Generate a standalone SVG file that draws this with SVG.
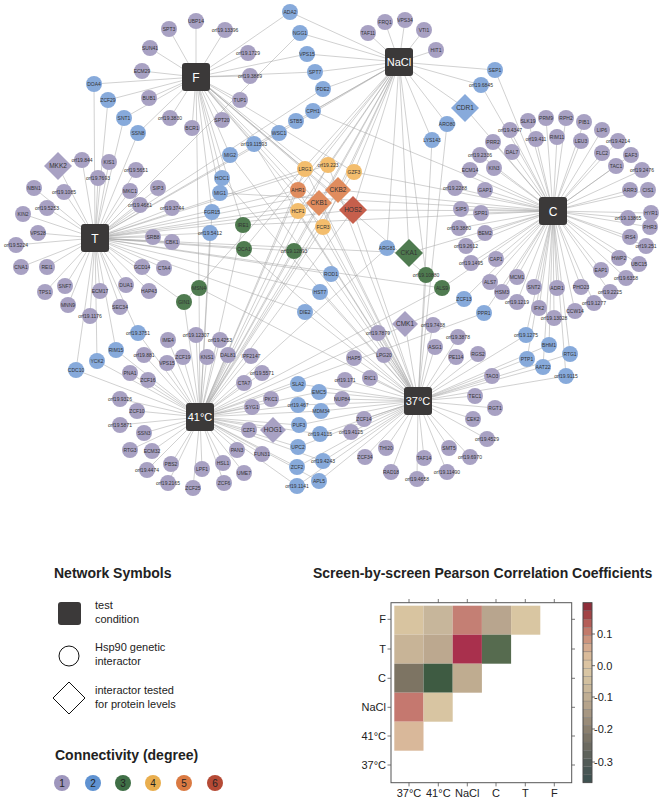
<svg xmlns="http://www.w3.org/2000/svg" width="663" height="800" viewBox="0 0 663 800">
<style>
.p{fill:#a8a1c3}.b{fill:#87aadb}.g{fill:#4f7b50}.y{fill:#f3bd6d}.o{fill:#e08c5e}.r{fill:#c65f4c}
.nodes text{font-family:'Liberation Sans',Arial,sans-serif;font-size:5px;text-anchor:middle;fill:#333}
.nodes text.d{font-size:6.5px}
.hub rect{fill:#3b3939}
.hub text{font-family:'Liberation Sans',Arial,sans-serif;font-size:11px;text-anchor:middle;fill:#fff}
.lg{font-family:'Liberation Sans',Arial,sans-serif;fill:#222}
.h{font-size:14px;font-weight:bold}
.s{font-size:11px}
</style>
<rect width="663" height="800" fill="#fff"/>
<g id="connectors" fill="none" stroke="#a3a3a3" stroke-width="0.5">
<path id="e-F" d="M196 77L169 29M196 77L196 21M196 77L225 30M196 77L150 48M196 77L142 71M196 77L149 98M196 77L170 118M196 77L192 128M196 77L248 53M196 77L250 76M196 77L240 100M196 77L222 120M196 77L94 84M196 77L108 100M196 77L124 118M196 77L138 133M196 77L290 12M196 77L307 54M196 77L315 72M196 77L254 144M196 77L230 155M196 77L222 178M196 77L220 193M196 77L212 212M196 77L243 225M196 77L199 288M196 77L426 275M196 77L305 169M196 77L354 172M196 77L323 227M196 77L298 190M196 77L338 190M196 77L319 203M196 77L353 210"/>
<path id="e-N" d="M399 62L368 33M399 62L385 22M399 62L405 20M399 62L424 30M399 62L436 50M399 62L290 12M399 62L300 33M399 62L307 54M399 62L315 72M399 62L323 89M399 62L313 111M399 62L296 121M399 62L279 133M399 62L495 70M399 62L481 85M399 62L465 108M399 62L447 124M399 62L432 140M399 62L387 248M399 62L244 249M399 62L294 251M399 62L184 302M399 62L409 253M399 62L426 275M399 62L328 165M399 62L354 172M399 62L298 211M399 62L323 227M399 62L298 190M399 62L338 190M399 62L319 203M399 62L353 210"/>
<path id="e-T" d="M95 238L58 166M95 238L82 160M95 238L109 162M95 238L136 170M95 238L98 178M95 238L34 188M95 238L64 192M95 238L130 191M95 238L158 188M95 238L47 208M95 238L140 205M95 238L172 208M95 238L23 214M95 238L38 233M95 238L16 245M95 238L153 237M95 238L172 242M95 238L21 267M95 238L47 267M95 238L142 267M95 238L164 268M95 238L65 286M95 238L45 292M95 238L100 291M95 238L126 285M95 238L149 291M95 238L68 305M95 238L120 307M95 238L90 316M95 238L94 84M95 238L108 100M95 238L124 118M95 238L138 133M95 238L300 33M95 238L323 89M95 238L296 121M95 238L279 133M95 238L210 233M95 238L116 350M95 238L97 361M95 238L76 370M95 238L138 333M95 238L331 274M95 238L320 292M95 238L305 312M95 238L244 249M95 238L294 251M95 238L184 302M95 238L409 253M95 238L442 288M95 238L305 169M95 238L328 165M95 238L298 211M95 238L298 190M95 238L338 190M95 238L319 203M95 238L353 210"/>
<path id="e-C" d="M553 211L528 121M553 211L546 118M553 211L566 118M553 211L584 122M553 211L602 130M553 211L510 130M553 211L536 139M553 211L557 137M553 211L581 141M553 211L618 141M553 211L493 142M553 211L512 152M553 211L602 153M553 211L631 155M553 211L480 155M553 211L616 166M553 211L642 170M553 211L470 170M553 211L494 168M553 211L455 188M553 211L485 190M553 211L461 209M553 211L481 213M553 211L459 228M553 211L485 233M553 211L466 246M553 211L471 263M553 211L496 259M553 211L490 282M553 211L517 277M553 211L502 292M553 211L534 287M553 211L557 288M553 211L581 287M553 211L601 270M553 211L626 278M553 211L610 292M553 211L517 302M553 211L594 303M553 211L539 308M553 211L575 311M553 211L554 318M553 211L630 190M553 211L648 190M553 211L651 213M553 211L628 218M553 211L650 227M553 211L630 237M553 211L646 246M553 211L619 258M553 211L639 264M553 211L313 111M553 211L220 193M553 211L495 70M553 211L481 85M553 211L465 108M553 211L243 225M553 211L409 253M553 211L442 288M553 211L464 299M553 211L484 313M553 211L526 335M553 211L549 345M553 211L527 359M553 211L543 367M553 211L570 354M553 211L566 376M553 211L354 172M553 211L338 190M553 211L353 210"/>
<path id="e-41" d="M200 417L144 355M200 417L168 340M200 417L183 357M200 417L207 357M200 417L167 363M200 417L196 335M200 417L220 340M200 417L130 373M200 417L148 380M200 417L120 399M200 417L137 411M200 417L120 425M200 417L144 433M200 417L130 450M200 417L152 451M200 417L171 464M200 417L147 470M200 417L202 469M200 417L168 483M200 417L193 488M200 417L223 463M200 417L224 483M200 417L244 473M200 417L237 450M200 417L262 454M200 417L249 430M200 417L273 430M200 417L252 407M200 417L271 399M200 417L244 383M200 417L262 373M200 417L251 356M200 417L228 355M200 417L212 212M200 417L210 233M200 417L116 350M200 417L97 361M200 417L76 370M200 417L138 333M200 417L387 248M200 417L464 299M200 417L484 313M200 417L298 384M200 417L319 392M200 417L298 405M200 417L321 411M200 417L299 425M200 417L320 434M200 417L298 447M200 417L297 467M200 417L323 461M200 417L319 481M200 417L297 486M200 417L243 225M200 417L294 251M200 417L199 288M200 417L184 302M200 417L442 288M200 417L305 169M200 417L328 165M200 417L354 172M200 417L298 211M200 417L323 227M200 417L298 190M200 417L338 190M200 417L319 203M200 417L353 210"/>
<path id="e-37" d="M418 401L354 358M418 401L384 355M418 401L345 380M418 401L370 378M418 401L342 399M418 401L364 419M418 401L351 432M418 401L365 457M418 401L386 448M418 401L391 472M418 401L424 458M418 401L417 479M418 401L447 472M418 401L470 457M418 401L449 448M418 401L487 439M418 401L473 419M418 401L495 408M418 401L475 396M418 401L492 376M418 401L478 354M418 401L456 357M418 401L435 347M418 401L378 333M418 401L405 324M418 401L433 325M418 401L458 337M418 401L254 144M418 401L230 155M418 401L222 178M418 401L447 124M418 401L432 140M418 401L331 274M418 401L320 292M418 401L305 312M418 401L526 335M418 401L549 345M418 401L527 359M418 401L543 367M418 401L570 354M418 401L566 376M418 401L298 384M418 401L319 392M418 401L298 405M418 401L321 411M418 401L299 425M418 401L320 434M418 401L298 447M418 401L297 467M418 401L323 461M418 401L319 481M418 401L297 486M418 401L244 249M418 401L199 288M418 401L426 275M418 401L305 169M418 401L328 165M418 401L298 211M418 401L323 227M418 401L298 190M418 401L319 203M418 401L353 210"/>
</g>
<g class="nodes">
<g id="n-SPT3"><circle class="p" cx="169" cy="29" r="8"/><text x="169" y="30.8">SPT3</text></g>
<g id="n-UBP14"><circle class="p" cx="196" cy="21" r="8"/><text x="196" y="22.8">UBP14</text></g>
<g id="n-orf19.13396"><circle class="p" cx="225" cy="30" r="8"/><text x="225" y="31.8">orf19.13396</text></g>
<g id="n-SUN41"><circle class="p" cx="150" cy="48" r="8"/><text x="150" y="49.8">SUN41</text></g>
<g id="n-ECM29"><circle class="p" cx="142" cy="71" r="8"/><text x="142" y="72.8">ECM29</text></g>
<g id="n-BUB1"><circle class="p" cx="149" cy="98" r="8"/><text x="149" y="99.8">BUB1</text></g>
<g id="n-orf19.3830"><circle class="p" cx="170" cy="118" r="8"/><text x="170" y="119.8">orf19.3830</text></g>
<g id="n-BCR1"><circle class="p" cx="192" cy="128" r="8"/><text x="192" y="129.8">BCR1</text></g>
<g id="n-orf19.1729"><circle class="p" cx="248" cy="53" r="8"/><text x="248" y="54.8">orf19.1729</text></g>
<g id="n-orf19.3889"><circle class="p" cx="250" cy="76" r="8"/><text x="250" y="77.8">orf19.3889</text></g>
<g id="n-TUP1"><circle class="p" cx="240" cy="100" r="8"/><text x="240" y="101.8">TUP1</text></g>
<g id="n-SPT20"><circle class="p" cx="222" cy="120" r="8"/><text x="222" y="121.8">SPT20</text></g>
<g id="n-TAF11"><circle class="p" cx="368" cy="33" r="8"/><text x="368" y="34.8">TAF11</text></g>
<g id="n-FRQ1"><circle class="p" cx="385" cy="22" r="8"/><text x="385" y="23.8">FRQ1</text></g>
<g id="n-VPS34"><circle class="p" cx="405" cy="20" r="8"/><text x="405" y="21.8">VPS34</text></g>
<g id="n-VTI1"><circle class="p" cx="424" cy="30" r="8"/><text x="424" y="31.8">VTI1</text></g>
<g id="n-HIT1"><circle class="p" cx="436" cy="50" r="8"/><text x="436" y="51.8">HIT1</text></g>
<g id="n-orf19.844"><circle class="p" cx="82" cy="160" r="8"/><text x="82" y="161.8">orf19.844</text></g>
<g id="n-KIS1"><circle class="p" cx="109" cy="162" r="8"/><text x="109" y="163.8">KIS1</text></g>
<g id="n-orf19.5651"><circle class="p" cx="136" cy="170" r="8"/><text x="136" y="171.8">orf19.5651</text></g>
<g id="n-orf19.7693"><circle class="p" cx="98" cy="178" r="8"/><text x="98" y="179.8">orf19.7693</text></g>
<g id="n-NBN1"><circle class="p" cx="34" cy="188" r="8"/><text x="34" y="189.8">NBN1</text></g>
<g id="n-orf19.1085"><circle class="p" cx="64" cy="192" r="8"/><text x="64" y="193.8">orf19.1085</text></g>
<g id="n-MKC1"><circle class="p" cx="130" cy="191" r="8"/><text x="130" y="192.8">MKC1</text></g>
<g id="n-SIP3"><circle class="p" cx="158" cy="188" r="8"/><text x="158" y="189.8">SIP3</text></g>
<g id="n-orf19.5253"><circle class="p" cx="47" cy="208" r="8"/><text x="47" y="209.8">orf19.5253</text></g>
<g id="n-orf19.4681"><circle class="p" cx="140" cy="205" r="8"/><text x="140" y="206.8">orf19.4681</text></g>
<g id="n-orf19.3744"><circle class="p" cx="172" cy="208" r="8"/><text x="172" y="209.8">orf19.3744</text></g>
<g id="n-KIN2"><circle class="p" cx="23" cy="214" r="8"/><text x="23" y="215.8">KIN2</text></g>
<g id="n-VPS28"><circle class="p" cx="38" cy="233" r="8"/><text x="38" y="234.8">VPS28</text></g>
<g id="n-orf19.5224"><circle class="p" cx="16" cy="245" r="8"/><text x="16" y="246.8">orf19.5224</text></g>
<g id="n-SRB8"><circle class="p" cx="153" cy="237" r="8"/><text x="153" y="238.8">SRB8</text></g>
<g id="n-CBK1"><circle class="p" cx="172" cy="242" r="8"/><text x="172" y="243.8">CBK1</text></g>
<g id="n-CNA1"><circle class="p" cx="21" cy="267" r="8"/><text x="21" y="268.8">CNA1</text></g>
<g id="n-REI1"><circle class="p" cx="47" cy="267" r="8"/><text x="47" y="268.8">REI1</text></g>
<g id="n-GCD14"><circle class="p" cx="142" cy="267" r="8"/><text x="142" y="268.8">GCD14</text></g>
<g id="n-CTA4"><circle class="p" cx="164" cy="268" r="8"/><text x="164" y="269.8">CTA4</text></g>
<g id="n-SNF7"><circle class="p" cx="65" cy="286" r="8"/><text x="65" y="287.8">SNF7</text></g>
<g id="n-TPS1"><circle class="p" cx="45" cy="292" r="8"/><text x="45" y="293.8">TPS1</text></g>
<g id="n-ECM17"><circle class="p" cx="100" cy="291" r="8"/><text x="100" y="292.8">ECM17</text></g>
<g id="n-DUA1"><circle class="p" cx="126" cy="285" r="8"/><text x="126" y="286.8">DUA1</text></g>
<g id="n-HAP43"><circle class="p" cx="149" cy="291" r="8"/><text x="149" y="292.8">HAP43</text></g>
<g id="n-MNN9"><circle class="p" cx="68" cy="305" r="8"/><text x="68" y="306.8">MNN9</text></g>
<g id="n-SEC34"><circle class="p" cx="120" cy="307" r="8"/><text x="120" y="308.8">SEC34</text></g>
<g id="n-orf19.1176"><circle class="p" cx="90" cy="316" r="8"/><text x="90" y="317.8">orf19.1176</text></g>
<g id="n-orf19.881"><circle class="p" cx="144" cy="355" r="8"/><text x="144" y="356.8">orf19.881</text></g>
<g id="n-IME4"><circle class="p" cx="168" cy="340" r="8"/><text x="168" y="341.8">IME4</text></g>
<g id="n-ZCF19"><circle class="p" cx="183" cy="357" r="8"/><text x="183" y="358.8">ZCF19</text></g>
<g id="n-KNS1"><circle class="p" cx="207" cy="357" r="8"/><text x="207" y="358.8">KNS1</text></g>
<g id="n-VPS15b"><circle class="p" cx="167" cy="363" r="8"/><text x="167" y="364.8">VPS15</text></g>
<g id="n-orf19.12307"><circle class="p" cx="196" cy="335" r="8"/><text x="196" y="336.8">orf19.12307</text></g>
<g id="n-orf19.4253"><circle class="p" cx="220" cy="340" r="8"/><text x="220" y="341.8">orf19.4253</text></g>
<g id="n-PNA1"><circle class="p" cx="130" cy="373" r="8"/><text x="130" y="374.8">PNA1</text></g>
<g id="n-ZCF16"><circle class="p" cx="148" cy="380" r="8"/><text x="148" y="381.8">ZCF16</text></g>
<g id="n-orf19.9326"><circle class="p" cx="120" cy="399" r="8"/><text x="120" y="400.8">orf19.9326</text></g>
<g id="n-ZCF10"><circle class="p" cx="137" cy="411" r="8"/><text x="137" y="412.8">ZCF10</text></g>
<g id="n-orf19.5871"><circle class="p" cx="120" cy="425" r="8"/><text x="120" y="426.8">orf19.5871</text></g>
<g id="n-SSN3"><circle class="p" cx="144" cy="433" r="8"/><text x="144" y="434.8">SSN3</text></g>
<g id="n-RTG3"><circle class="p" cx="130" cy="450" r="8"/><text x="130" y="451.8">RTG3</text></g>
<g id="n-ECM32"><circle class="p" cx="152" cy="451" r="8"/><text x="152" y="452.8">ECM32</text></g>
<g id="n-PBS2"><circle class="p" cx="171" cy="464" r="8"/><text x="171" y="465.8">PBS2</text></g>
<g id="n-orf19.4474"><circle class="p" cx="147" cy="470" r="8"/><text x="147" y="471.8">orf19.4474</text></g>
<g id="n-LPF1"><circle class="p" cx="202" cy="469" r="8"/><text x="202" y="470.8">LPF1</text></g>
<g id="n-orf19.2165"><circle class="p" cx="168" cy="483" r="8"/><text x="168" y="484.8">orf19.2165</text></g>
<g id="n-ZCF25"><circle class="p" cx="193" cy="488" r="8"/><text x="193" y="489.8">ZCF25</text></g>
<g id="n-HSL1"><circle class="p" cx="223" cy="463" r="8"/><text x="223" y="464.8">HSL1</text></g>
<g id="n-ZCF6"><circle class="p" cx="224" cy="483" r="8"/><text x="224" y="484.8">ZCF6</text></g>
<g id="n-UME7"><circle class="p" cx="244" cy="473" r="8"/><text x="244" y="474.8">UME7</text></g>
<g id="n-PAN3"><circle class="p" cx="237" cy="450" r="8"/><text x="237" y="451.8">PAN3</text></g>
<g id="n-FUN31"><circle class="p" cx="262" cy="454" r="8"/><text x="262" y="455.8">FUN31</text></g>
<g id="n-CZF1"><circle class="p" cx="249" cy="430" r="8"/><text x="249" y="431.8">CZF1</text></g>
<g id="n-SYG1"><circle class="p" cx="252" cy="407" r="8"/><text x="252" y="408.8">SYG1</text></g>
<g id="n-PKC1"><circle class="p" cx="271" cy="399" r="8"/><text x="271" y="400.8">PKC1</text></g>
<g id="n-CTA7"><circle class="p" cx="244" cy="383" r="8"/><text x="244" y="384.8">CTA7</text></g>
<g id="n-orf19.5571"><circle class="p" cx="262" cy="373" r="8"/><text x="262" y="374.8">orf19.5571</text></g>
<g id="n-IPF2147"><circle class="p" cx="251" cy="356" r="8"/><text x="251" y="357.8">IPF2147</text></g>
<g id="n-DAL81"><circle class="p" cx="228" cy="355" r="8"/><text x="228" y="356.8">DAL81</text></g>
<g id="n-HAP5"><circle class="p" cx="354" cy="358" r="8"/><text x="354" y="359.8">HAP5</text></g>
<g id="n-LPG20"><circle class="p" cx="384" cy="355" r="8"/><text x="384" y="356.8">LPG20</text></g>
<g id="n-orf19.171"><circle class="p" cx="345" cy="380" r="8"/><text x="345" y="381.8">orf19.171</text></g>
<g id="n-RIC1"><circle class="p" cx="370" cy="378" r="8"/><text x="370" y="379.8">RIC1</text></g>
<g id="n-NUP84"><circle class="p" cx="342" cy="399" r="8"/><text x="342" y="400.8">NUP84</text></g>
<g id="n-ZCF14"><circle class="p" cx="364" cy="419" r="8"/><text x="364" y="420.8">ZCF14</text></g>
<g id="n-orf19.4125"><circle class="p" cx="351" cy="432" r="8"/><text x="351" y="433.8">orf19.4125</text></g>
<g id="n-ZCF34"><circle class="p" cx="365" cy="457" r="8"/><text x="365" y="458.8">ZCF34</text></g>
<g id="n-THI20"><circle class="p" cx="386" cy="448" r="8"/><text x="386" y="449.8">THI20</text></g>
<g id="n-RAD18"><circle class="p" cx="391" cy="472" r="8"/><text x="391" y="473.8">RAD18</text></g>
<g id="n-TAF14"><circle class="p" cx="424" cy="458" r="8"/><text x="424" y="459.8">TAF14</text></g>
<g id="n-orf19.4658"><circle class="p" cx="417" cy="479" r="8"/><text x="417" y="480.8">orf19.4658</text></g>
<g id="n-orf19.11490"><circle class="p" cx="447" cy="472" r="8"/><text x="447" y="473.8">orf19.11490</text></g>
<g id="n-orf19.6970"><circle class="p" cx="470" cy="457" r="8"/><text x="470" y="458.8">orf19.6970</text></g>
<g id="n-SMT5"><circle class="p" cx="449" cy="448" r="8"/><text x="449" y="449.8">SMT5</text></g>
<g id="n-orf19.4529"><circle class="p" cx="487" cy="439" r="8"/><text x="487" y="440.8">orf19.4529</text></g>
<g id="n-CEK2"><circle class="p" cx="473" cy="419" r="8"/><text x="473" y="420.8">CEK2</text></g>
<g id="n-RGT1"><circle class="p" cx="495" cy="408" r="8"/><text x="495" y="409.8">RGT1</text></g>
<g id="n-TEC1"><circle class="p" cx="475" cy="396" r="8"/><text x="475" y="397.8">TEC1</text></g>
<g id="n-TAO3"><circle class="p" cx="492" cy="376" r="8"/><text x="492" y="377.8">TAO3</text></g>
<g id="n-RGS2"><circle class="p" cx="478" cy="354" r="8"/><text x="478" y="355.8">RGS2</text></g>
<g id="n-PE114"><circle class="p" cx="456" cy="357" r="8"/><text x="456" y="358.8">PE114</text></g>
<g id="n-ASG1"><circle class="p" cx="435" cy="347" r="8"/><text x="435" y="348.8">ASG1</text></g>
<g id="n-orf19.7879"><circle class="p" cx="378" cy="333" r="8"/><text x="378" y="334.8">orf19.7879</text></g>
<g id="n-orf19.7438"><circle class="p" cx="433" cy="325" r="8"/><text x="433" y="326.8">orf19.7438</text></g>
<g id="n-orf19.3878"><circle class="p" cx="458" cy="337" r="8"/><text x="458" y="338.8">orf19.3878</text></g>
<g id="n-SLK19"><circle class="p" cx="528" cy="121" r="8"/><text x="528" y="122.8">SLK19</text></g>
<g id="n-PRM9"><circle class="p" cx="546" cy="118" r="8"/><text x="546" y="119.8">PRM9</text></g>
<g id="n-RPH2"><circle class="p" cx="566" cy="118" r="8"/><text x="566" y="119.8">RPH2</text></g>
<g id="n-PIB1"><circle class="p" cx="584" cy="122" r="8"/><text x="584" y="123.8">PIB1</text></g>
<g id="n-LIP6"><circle class="p" cx="602" cy="130" r="8"/><text x="602" y="131.8">LIP6</text></g>
<g id="n-orf19.4347"><circle class="p" cx="510" cy="130" r="8"/><text x="510" y="131.8">orf19.4347</text></g>
<g id="n-orf19.411"><circle class="p" cx="536" cy="139" r="8"/><text x="536" y="140.8">orf19.411</text></g>
<g id="n-RIM11"><circle class="p" cx="557" cy="137" r="8"/><text x="557" y="138.8">RIM11</text></g>
<g id="n-LEU3"><circle class="p" cx="581" cy="141" r="8"/><text x="581" y="142.8">LEU3</text></g>
<g id="n-orf19.4214"><circle class="p" cx="618" cy="141" r="8"/><text x="618" y="142.8">orf19.4214</text></g>
<g id="n-PRR2"><circle class="p" cx="493" cy="142" r="8"/><text x="493" y="143.8">PRR2</text></g>
<g id="n-DAL7"><circle class="p" cx="512" cy="152" r="8"/><text x="512" y="153.8">DAL7</text></g>
<g id="n-FLC2"><circle class="p" cx="602" cy="153" r="8"/><text x="602" y="154.8">FLC2</text></g>
<g id="n-EAF3"><circle class="p" cx="631" cy="155" r="8"/><text x="631" y="156.8">EAF3</text></g>
<g id="n-orf19.2336"><circle class="p" cx="480" cy="155" r="8"/><text x="480" y="156.8">orf19.2336</text></g>
<g id="n-TAC1"><circle class="p" cx="616" cy="166" r="8"/><text x="616" y="167.8">TAC1</text></g>
<g id="n-orf19.2476"><circle class="p" cx="642" cy="170" r="8"/><text x="642" y="171.8">orf19.2476</text></g>
<g id="n-ECM14"><circle class="p" cx="470" cy="170" r="8"/><text x="470" y="171.8">ECM14</text></g>
<g id="n-KIN3"><circle class="p" cx="494" cy="168" r="8"/><text x="494" y="169.8">KIN3</text></g>
<g id="n-orf19.2288"><circle class="p" cx="455" cy="188" r="8"/><text x="455" y="189.8">orf19.2288</text></g>
<g id="n-GAP1"><circle class="p" cx="485" cy="190" r="8"/><text x="485" y="191.8">GAP1</text></g>
<g id="n-SIP5"><circle class="p" cx="461" cy="209" r="8"/><text x="461" y="210.8">SIP5</text></g>
<g id="n-SPR1"><circle class="p" cx="481" cy="213" r="8"/><text x="481" y="214.8">SPR1</text></g>
<g id="n-orf19.3880"><circle class="p" cx="459" cy="228" r="8"/><text x="459" y="229.8">orf19.3880</text></g>
<g id="n-BEM2"><circle class="p" cx="485" cy="233" r="8"/><text x="485" y="234.8">BEM2</text></g>
<g id="n-orf19.2612"><circle class="p" cx="466" cy="246" r="8"/><text x="466" y="247.8">orf19.2612</text></g>
<g id="n-orf19.1495"><circle class="p" cx="471" cy="263" r="8"/><text x="471" y="264.8">orf19.1495</text></g>
<g id="n-CAP1"><circle class="p" cx="496" cy="259" r="8"/><text x="496" y="260.8">CAP1</text></g>
<g id="n-ALS7"><circle class="p" cx="490" cy="282" r="8"/><text x="490" y="283.8">ALS7</text></g>
<g id="n-MCM1"><circle class="p" cx="517" cy="277" r="8"/><text x="517" y="278.8">MCM1</text></g>
<g id="n-HSM3"><circle class="p" cx="502" cy="292" r="8"/><text x="502" y="293.8">HSM3</text></g>
<g id="n-SNT2"><circle class="p" cx="534" cy="287" r="8"/><text x="534" y="288.8">SNT2</text></g>
<g id="n-ADR1"><circle class="p" cx="557" cy="288" r="8"/><text x="557" y="289.8">ADR1</text></g>
<g id="n-PHO23"><circle class="p" cx="581" cy="287" r="8"/><text x="581" y="288.8">PHO23</text></g>
<g id="n-EAP1"><circle class="p" cx="601" cy="270" r="8"/><text x="601" y="271.8">EAP1</text></g>
<g id="n-orf19.6358"><circle class="p" cx="626" cy="278" r="8"/><text x="626" y="279.8">orf19.6358</text></g>
<g id="n-orf19.2225"><circle class="p" cx="610" cy="292" r="8"/><text x="610" y="293.8">orf19.2225</text></g>
<g id="n-orf19.1219"><circle class="p" cx="517" cy="302" r="8"/><text x="517" y="303.8">orf19.1219</text></g>
<g id="n-orf19.1277"><circle class="p" cx="594" cy="303" r="8"/><text x="594" y="304.8">orf19.1277</text></g>
<g id="n-IFK2"><circle class="p" cx="539" cy="308" r="8"/><text x="539" y="309.8">IFK2</text></g>
<g id="n-CCW14"><circle class="p" cx="575" cy="311" r="8"/><text x="575" y="312.8">CCW14</text></g>
<g id="n-orf19.13028"><circle class="p" cx="554" cy="318" r="8"/><text x="554" y="319.8">orf19.13028</text></g>
<g id="n-ARR3"><circle class="p" cx="630" cy="190" r="8"/><text x="630" y="191.8">ARR3</text></g>
<g id="n-CIS1"><circle class="p" cx="648" cy="190" r="8"/><text x="648" y="191.8">CIS1</text></g>
<g id="n-HYR1"><circle class="p" cx="651" cy="213" r="8"/><text x="651" y="214.8">HYR1</text></g>
<g id="n-orf19.13865"><circle class="p" cx="628" cy="218" r="8"/><text x="628" y="219.8">orf19.13865</text></g>
<g id="n-PHR3"><circle class="p" cx="650" cy="227" r="8"/><text x="650" y="228.8">PHR3</text></g>
<g id="n-IRS4"><circle class="p" cx="630" cy="237" r="8"/><text x="630" y="238.8">IRS4</text></g>
<g id="n-orf19.251"><circle class="p" cx="646" cy="246" r="8"/><text x="646" y="247.8">orf19.251</text></g>
<g id="n-HWP2"><circle class="p" cx="619" cy="258" r="8"/><text x="619" y="259.8">HWP2</text></g>
<g id="n-UBC15"><circle class="p" cx="639" cy="264" r="8"/><text x="639" y="265.8">UBC15</text></g>
<g id="n-DOA4"><circle class="b" cx="94" cy="84" r="8"/><text x="94" y="85.8">DOA4</text></g>
<g id="n-ZCF29"><circle class="b" cx="108" cy="100" r="8"/><text x="108" y="101.8">ZCF29</text></g>
<g id="n-SNT1"><circle class="b" cx="124" cy="118" r="8"/><text x="124" y="119.8">SNT1</text></g>
<g id="n-SSN8"><circle class="b" cx="138" cy="133" r="8"/><text x="138" y="134.8">SSN8</text></g>
<g id="n-ADA2"><circle class="b" cx="290" cy="12" r="8"/><text x="290" y="13.8">ADA2</text></g>
<g id="n-NGG1"><circle class="b" cx="300" cy="33" r="8"/><text x="300" y="34.8">NGG1</text></g>
<g id="n-VPS15"><circle class="b" cx="307" cy="54" r="8"/><text x="307" y="55.8">VPS15</text></g>
<g id="n-SPT7"><circle class="b" cx="315" cy="72" r="8"/><text x="315" y="73.8">SPT7</text></g>
<g id="n-PDE2"><circle class="b" cx="323" cy="89" r="8"/><text x="323" y="90.8">PDE2</text></g>
<g id="n-CPH1"><circle class="b" cx="313" cy="111" r="8"/><text x="313" y="112.8">CPH1</text></g>
<g id="n-STB5"><circle class="b" cx="296" cy="121" r="8"/><text x="296" y="122.8">STB5</text></g>
<g id="n-WSC1"><circle class="b" cx="279" cy="133" r="8"/><text x="279" y="134.8">WSC1</text></g>
<g id="n-orf19.11593"><circle class="b" cx="254" cy="144" r="8"/><text x="254" y="145.8">orf19.11593</text></g>
<g id="n-MIG2"><circle class="b" cx="230" cy="155" r="8"/><text x="230" y="156.8">MIG2</text></g>
<g id="n-HOC1"><circle class="b" cx="222" cy="178" r="8"/><text x="222" y="179.8">HOC1</text></g>
<g id="n-MIG1"><circle class="b" cx="220" cy="193" r="8"/><text x="220" y="194.8">MIG1</text></g>
<g id="n-FGR15"><circle class="b" cx="212" cy="212" r="8"/><text x="212" y="213.8">FGR15</text></g>
<g id="n-orf19.5412"><circle class="b" cx="210" cy="233" r="8"/><text x="210" y="234.8">orf19.5412</text></g>
<g id="n-RIM15"><circle class="b" cx="116" cy="350" r="8"/><text x="116" y="351.8">RIM15</text></g>
<g id="n-YCK2"><circle class="b" cx="97" cy="361" r="8"/><text x="97" y="362.8">YCK2</text></g>
<g id="n-CDC10"><circle class="b" cx="76" cy="370" r="8"/><text x="76" y="371.8">CDC10</text></g>
<g id="n-orf19.3751"><circle class="b" cx="138" cy="333" r="8"/><text x="138" y="334.8">orf19.3751</text></g>
<g id="n-SEP1"><circle class="b" cx="495" cy="70" r="8"/><text x="495" y="71.8">SEP1</text></g>
<g id="n-orf19.6845"><circle class="b" cx="481" cy="85" r="8"/><text x="481" y="86.8">orf19.6845</text></g>
<g id="n-ARO80"><circle class="b" cx="447" cy="124" r="8"/><text x="447" y="125.8">ARO80</text></g>
<g id="n-LYS143"><circle class="b" cx="432" cy="140" r="8"/><text x="432" y="141.8">LYS143</text></g>
<g id="n-ROD1"><circle class="b" cx="331" cy="274" r="8"/><text x="331" y="275.8">ROD1</text></g>
<g id="n-HST7"><circle class="b" cx="320" cy="292" r="8"/><text x="320" y="293.8">HST7</text></g>
<g id="n-DIE2"><circle class="b" cx="305" cy="312" r="8"/><text x="305" y="313.8">DIE2</text></g>
<g id="n-ARG81"><circle class="b" cx="387" cy="248" r="8"/><text x="387" y="249.8">ARG81</text></g>
<g id="n-ZCF13"><circle class="b" cx="464" cy="299" r="8"/><text x="464" y="300.8">ZCF13</text></g>
<g id="n-PPR1"><circle class="b" cx="484" cy="313" r="8"/><text x="484" y="314.8">PPR1</text></g>
<g id="n-orf19.1275"><circle class="b" cx="526" cy="335" r="8"/><text x="526" y="336.8">orf19.1275</text></g>
<g id="n-BHM1"><circle class="b" cx="549" cy="345" r="8"/><text x="549" y="346.8">BHM1</text></g>
<g id="n-PTP1"><circle class="b" cx="527" cy="359" r="8"/><text x="527" y="360.8">PTP1</text></g>
<g id="n-AAT22"><circle class="b" cx="543" cy="367" r="8"/><text x="543" y="368.8">AAT22</text></g>
<g id="n-RTG1"><circle class="b" cx="570" cy="354" r="8"/><text x="570" y="355.8">RTG1</text></g>
<g id="n-orf19.9115"><circle class="b" cx="566" cy="376" r="8"/><text x="566" y="377.8">orf19.9115</text></g>
<g id="n-SLA2"><circle class="b" cx="298" cy="384" r="8"/><text x="298" y="385.8">SLA2</text></g>
<g id="n-EMC5"><circle class="b" cx="319" cy="392" r="8"/><text x="319" y="393.8">EMC5</text></g>
<g id="n-orf19.467"><circle class="b" cx="298" cy="405" r="8"/><text x="298" y="406.8">orf19.467</text></g>
<g id="n-MDM34"><circle class="b" cx="321" cy="411" r="8"/><text x="321" y="412.8">MDM34</text></g>
<g id="n-PUF3"><circle class="b" cx="299" cy="425" r="8"/><text x="299" y="426.8">PUF3</text></g>
<g id="n-orf19.4135"><circle class="b" cx="320" cy="434" r="8"/><text x="320" y="435.8">orf19.4135</text></g>
<g id="n-UPC2"><circle class="b" cx="298" cy="447" r="8"/><text x="298" y="448.8">UPC2</text></g>
<g id="n-ZCF2"><circle class="b" cx="297" cy="467" r="8"/><text x="297" y="468.8">ZCF2</text></g>
<g id="n-orf19.4243"><circle class="b" cx="323" cy="461" r="8"/><text x="323" y="462.8">orf19.4243</text></g>
<g id="n-APL5"><circle class="b" cx="319" cy="481" r="8"/><text x="319" y="482.8">APL5</text></g>
<g id="n-orf19.1141"><circle class="b" cx="297" cy="486" r="8"/><text x="297" y="487.8">orf19.1141</text></g>
<g id="n-IRE1"><circle class="g" cx="243" cy="225" r="8"/><text x="243" y="226.8">IRE1</text></g>
<g id="n-OCA1"><circle class="g" cx="244" cy="249" r="8"/><text x="244" y="250.8">OCA1</text></g>
<g id="n-orf19.12893"><circle class="g" cx="294" cy="251" r="8"/><text x="294" y="252.8">orf19.12893</text></g>
<g id="n-MSN4"><circle class="g" cx="199" cy="288" r="8"/><text x="199" y="289.8">MSN4</text></g>
<g id="n-GIN1"><circle class="g" cx="184" cy="302" r="8"/><text x="184" y="303.8">GIN1</text></g>
<g id="n-orf19.10880"><circle class="g" cx="426" cy="275" r="8"/><text x="426" y="276.8">orf19.10880</text></g>
<g id="n-ALS9"><circle class="g" cx="442" cy="288" r="8"/><text x="442" y="289.8">ALS9</text></g>
<g id="n-LRG1"><circle class="y" cx="305" cy="169" r="8"/><text x="305" y="170.8">LRG1</text></g>
<g id="n-orf19.223"><circle class="y" cx="328" cy="165" r="8"/><text x="328" y="166.8">orf19.223</text></g>
<g id="n-GZF3"><circle class="y" cx="354" cy="172" r="8"/><text x="354" y="173.8">GZF3</text></g>
<g id="n-HCF1"><circle class="y" cx="298" cy="211" r="8"/><text x="298" y="212.8">HCF1</text></g>
<g id="n-FCR3"><circle class="y" cx="323" cy="227" r="8"/><text x="323" y="228.8">FCR3</text></g>
<g id="n-AHR1"><circle class="o" cx="298" cy="190" r="8"/><text x="298" y="191.8">AHR1</text></g>
<g id="n-CKB2"><path class="o" d="M338 177L351 190L338 203L325 190Z"/><text class="d" x="338" y="192.3">CKB2</text></g>
<g id="n-CKB1"><path class="o" d="M319 190L332 203L319 216L306 203Z"/><text class="d" x="319" y="205.3">CKB1</text></g>
<g id="n-HOS2"><path class="r" d="M353 196L367 210L353 224L339 210Z"/><text class="d" x="353" y="212.3">HOS2</text></g>
<g id="n-CKA1"><path class="g" d="M409 239L423 253L409 267L395 253Z"/><text class="d" x="409" y="255.3">CKA1</text></g>
<g id="n-CDR1"><path class="b" d="M465 94L479 108L465 122L451 108Z"/><text class="d" x="465" y="110.3">CDR1</text></g>
<g id="n-MKK2"><path class="p" d="M58 152L72 166L58 180L44 166Z"/><text class="d" x="58" y="168.3">MKK2</text></g>
<g id="n-CMK1"><path class="p" d="M405 311L418 324L405 337L392 324Z"/><text class="d" x="405" y="326.3">CMK1</text></g>
<g id="n-HOG1"><path class="p" d="M273 417L286 430L273 443L260 430Z"/><text class="d" x="273" y="432.3">HOG1</text></g>
</g>
<g id="hubs" class="hub">
<g id="n-F"><rect x="182" y="63" width="28" height="28" rx="3"/><text x="196" y="81.5" style="font-size:12px">F</text></g>
<g id="n-NaCl"><rect x="385" y="48" width="28" height="28" rx="3"/><text x="399" y="66">NaCl</text></g>
<g id="n-C"><rect x="539" y="197" width="28" height="28" rx="3"/><text x="553" y="215.5" style="font-size:12px">C</text></g>
<g id="n-T"><rect x="81" y="224" width="28" height="28" rx="3"/><text x="95" y="242.5" style="font-size:12px">T</text></g>
<g id="n-41C"><rect x="186" y="403" width="28" height="28" rx="3"/><text x="200" y="421">41°C</text></g>
<g id="n-37C"><rect x="404" y="387" width="28" height="28" rx="3"/><text x="418" y="405">37°C</text></g>
</g>
<g id="legend" class="lg">
<text class="h" x="54" y="578">Network Symbols</text>
<rect x="58" y="602" width="23" height="23" rx="3" fill="#3b3939"/>
<text class="s" x="95" y="609">test</text>
<text class="s" x="95" y="623">condition</text>
<circle cx="69" cy="656" r="10" fill="none" stroke="#111" stroke-width="1"/>
<text class="s" x="95" y="651">Hsp90 genetic</text>
<text class="s" x="95" y="665">interactor</text>
<path d="M69 682L85 698L69 714L53 698Z" fill="none" stroke="#111" stroke-width="1"/>
<text class="s" x="95" y="694">interactor tested</text>
<text class="s" x="95" y="708">for protein levels</text>
<text class="h" x="55" y="760">Connectivity (degree)</text>
<g font-size="10" text-anchor="middle">
<circle cx="62" cy="783" r="8" fill="#9e96bd"/><text x="62" y="786.5">1</text>
<circle cx="93" cy="783" r="8" fill="#5f92d1"/><text x="93" y="786.5">2</text>
<circle cx="123" cy="783" r="8" fill="#3f6f46"/><text x="123" y="786.5">3</text>
<circle cx="153" cy="783" r="8" fill="#e9ae4e"/><text x="153" y="786.5">4</text>
<circle cx="184" cy="783" r="8" fill="#da7a42"/><text x="184" y="786.5">5</text>
<circle cx="215" cy="783" r="8" fill="#b54a35"/><text x="215" y="786.5">6</text>
</g>
</g>
<g id="heatmap" class="lg">
<text class="h" x="313" y="578">Screen-by-screen Pearson Correlation Coefficients</text>
<g stroke="none">
<rect x="394.3" y="605.7" width="29.2" height="29" fill="#d8c4a0"/>
<rect x="423.5" y="605.7" width="29.2" height="29" fill="#c7b69b"/>
<rect x="452.7" y="605.7" width="29.2" height="29" fill="#c47f74"/>
<rect x="481.9" y="605.7" width="29.2" height="29" fill="#b8a58e"/>
<rect x="511.1" y="605.7" width="29.2" height="29" fill="#d9c6a2"/>
<rect x="394.3" y="634.7" width="29.2" height="29" fill="#c8b497"/>
<rect x="423.5" y="634.7" width="29.2" height="29" fill="#bca88f"/>
<rect x="452.7" y="634.7" width="29.2" height="29" fill="#a9304d"/>
<rect x="481.9" y="634.7" width="29.2" height="29" fill="#566b4f"/>
<rect x="394.3" y="663.7" width="29.2" height="29" fill="#7d7463"/>
<rect x="423.5" y="663.7" width="29.2" height="29" fill="#3e5b42"/>
<rect x="452.7" y="663.7" width="29.2" height="29" fill="#bfac90"/>
<rect x="394.3" y="692.7" width="29.2" height="29" fill="#c5786f"/>
<rect x="423.5" y="692.7" width="29.2" height="29" fill="#d8c5a2"/>
<rect x="394.3" y="721.7" width="29.2" height="29" fill="#d9b89a"/>
</g>
<rect x="391" y="602.7" width="180.7" height="180" fill="none" stroke="#555" stroke-width="1"/>
<path fill="none" stroke="#555" stroke-width="0.8" d="M409 599V602.7M438.3 599V602.7M467.3 599V602.7M496 599V602.7M525.3 599V602.7M554.3 599V602.7M409 782.7V786.4M438.3 782.7V786.4M467.3 782.7V786.4M496 782.7V786.4M525.3 782.7V786.4M554.3 782.7V786.4M387.5 619.3H391M387.5 649H391M387.5 678.3H391M387.5 707.3H391M387.5 736H391M387.5 765H391M571.7 619.3H575M571.7 649H575M571.7 678.3H575M571.7 707.3H575M571.7 736H575M571.7 765H575"/>
<g class="s" text-anchor="end">
<text x="386" y="623">F</text>
<text x="386" y="653">T</text>
<text x="386" y="682">C</text>
<text x="386" y="711">NaCl</text>
<text x="386" y="740">41°C</text>
<text x="386" y="769">37°C</text>
</g>
<g class="s" text-anchor="middle">
<text x="409" y="797">37°C</text>
<text x="438.3" y="797">41°C</text>
<text x="467.3" y="797">NaCl</text>
<text x="496" y="797">C</text>
<text x="525.3" y="797">T</text>
<text x="554.3" y="797">F</text>
</g>
<g id="colorbar" stroke="#6a6a6a" stroke-width="0.3">
<rect x="583" y="602.7" width="9" height="8.2" fill="#8f2e3a"/>
<rect x="583" y="610.9" width="9" height="8.2" fill="#a24446"/>
<rect x="583" y="619.1" width="9" height="8.2" fill="#b55e58"/>
<rect x="583" y="627.3" width="9" height="8.2" fill="#c27a6b"/>
<rect x="583" y="635.5" width="9" height="8.2" fill="#cc947e"/>
<rect x="583" y="643.7" width="9" height="8.2" fill="#d5ab8f"/>
<rect x="583" y="651.9" width="9" height="8.2" fill="#dabb9a"/>
<rect x="583" y="660.1" width="9" height="8.2" fill="#dcc4a2"/>
<rect x="583" y="668.3" width="9" height="8.2" fill="#d9c6a4"/>
<rect x="583" y="676.5" width="9" height="8.2" fill="#d2c09f"/>
<rect x="583" y="684.7" width="9" height="8.2" fill="#cab89a"/>
<rect x="583" y="692.9" width="9" height="8.2" fill="#c0ae93"/>
<rect x="583" y="701.1" width="9" height="8.2" fill="#b5a38b"/>
<rect x="583" y="709.3" width="9" height="8.2" fill="#a79782"/>
<rect x="583" y="717.5" width="9" height="8.2" fill="#998b78"/>
<rect x="583" y="725.7" width="9" height="8.2" fill="#8a7f6e"/>
<rect x="583" y="733.9" width="9" height="8.2" fill="#7b7466"/>
<rect x="583" y="742.1" width="9" height="8.2" fill="#6c6a60"/>
<rect x="583" y="750.3" width="9" height="8.2" fill="#5e625b"/>
<rect x="583" y="758.5" width="9" height="8.2" fill="#525b57"/>
<rect x="583" y="766.7" width="9" height="8.2" fill="#485654"/>
<rect x="583" y="774.9" width="9" height="7.8" fill="#3f5251"/>
<rect x="583" y="602.7" width="9" height="180" fill="none" stroke="#444" stroke-width="0.8"/>
<path fill="none" stroke="#444" stroke-width="0.8" d="M592 634H595M592 665.7H595M592 697H595M592 729H595M592 762H595"/>
</g>
<g class="s">
<text x="597" y="638">0.1</text>
<text x="597" y="670">0.0</text>
<text x="594" y="701">-0.1</text>
<text x="594" y="733">-0.2</text>
<text x="594" y="766">-0.3</text>
</g>
</g>
</svg>
